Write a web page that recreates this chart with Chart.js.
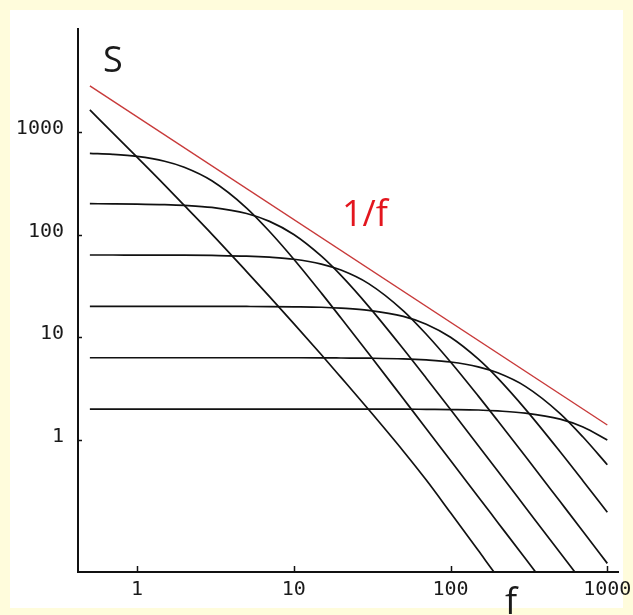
<!DOCTYPE html>
<html>
<head>
<meta charset="utf-8">
<script src="https://cdn.jsdelivr.net/npm/chart.js@4.4.1/dist/chart.umd.min.js"></script>
<style>
  html, body { margin: 0; padding: 0; background: #fffcdc; }
  #wrap { position: relative; width: 633px; height: 615px; }
</style>
</head>
<body>
<div id="wrap"><canvas id="spectrum"></canvas></div>
<script>
// frequencies the spectra are sampled at
const freq = [0.5, 0.7, 1, 1.5, 2, 3, 5, 7, 10, 15, 20, 30, 50, 70, 100, 150, 200, 300, 500, 700, 1000];

// steepest spectrum, no visible plateau
const steep   = [1633, 975, 566, 303, 192, 101, 43.6, 24.9, 13.6, 6.76, 4.07, 1.98, 0.779, 0.408, 0.196, 0.0845, 0.0464, 0.0206, 0.0074, 0.0038, 0.0019];
// Lorentzian spectra, named by their low-frequency plateau
const lor632  = [617, 603, 575, 516, 451, 333, 181, 107, 57.5, 26.9, 15.4, 6.95, 2.52, 1.29, 0.631, 0.281, 0.158, 0.0702, 0.0253, 0.0129, 0.0063];
const lor200  = [199.5, 199, 198, 195.6, 192.3, 183.5, 160, 134.2, 100, 61.5, 40, 20, 7.69, 4, 1.98, 0.885, 0.499, 0.222, 0.08, 0.0408, 0.02];
const lor63   = [63.2, 63.2, 63.1, 63.1, 63.0, 62.6, 61.7, 60.2, 57.5, 51.6, 45.1, 33.3, 18.1, 10.7, 5.75, 2.69, 1.54, 0.695, 0.252, 0.129, 0.0631];
const lor20   = [20, 20, 20, 20, 20, 20, 19.95, 19.9, 19.8, 19.6, 19.2, 18.3, 16, 13.4, 10, 6.15, 4, 2, 0.769, 0.4, 0.198];
const lor6    = [6.32, 6.32, 6.32, 6.32, 6.32, 6.32, 6.32, 6.32, 6.32, 6.31, 6.29, 6.26, 6.17, 6.02, 5.75, 5.16, 4.51, 3.33, 1.81, 1.07, 0.575];
const lor2    = [2, 2, 2, 2, 2, 2, 2, 2, 2, 2, 2, 2, 2, 1.99, 1.98, 1.96, 1.92, 1.83, 1.6, 1.34, 1];

// the 1/f envelope
const envFreq = [0.5, 1000];
const envVals = [2800, 1.4];

const xTicks = [1, 10, 100, 1000];
const yTicks = [1, 10, 100, 1000];

const toPoints = (xs, ys) => xs.map((x, i) => ({ x: x, y: ys[i] }));

const spectra = [steep, lor632, lor200, lor63, lor20, lor6, lor2].map(vals => ({
  data: toPoints(freq, vals),
  borderColor: '#111',
  borderWidth: 1.7,
  pointRadius: 0,
  cubicInterpolationMode: 'monotone'
}));

const envelope = {
  data: toPoints(envFreq, envVals),
  borderColor: '#c83a3a',
  borderWidth: 1.4,
  pointRadius: 0
};

// yellow page with a white card behind the plot
const framePlugin = {
  id: 'frame',
  beforeDraw(chart) {
    const ctx = chart.ctx;
    ctx.save();
    ctx.fillStyle = '#fffcdc';
    ctx.fillRect(0, 0, chart.width, chart.height);
    ctx.fillStyle = '#ffffff';
    ctx.fillRect(10, 10, 613, 598);
    ctx.restore();
  }
};

// inward tick marks and the S, f and 1/f labels
const marksPlugin = {
  id: 'marks',
  afterDraw(chart) {
    const { ctx, chartArea: area } = chart;
    const xs = chart.scales.x, ys = chart.scales.y;
    ctx.save();
    ctx.strokeStyle = '#111';
    ctx.lineWidth = 1.5;
    ctx.beginPath();
    xTicks.forEach(v => {
      const px = Math.round(xs.getPixelForValue(v)) + 0.5;
      ctx.moveTo(px, area.bottom);
      ctx.lineTo(px, area.bottom - 6);
    });
    yTicks.forEach(v => {
      const py = Math.round(ys.getPixelForValue(v)) + 0.5;
      ctx.moveTo(area.left, py);
      ctx.lineTo(area.left + 4, py);
    });
    ctx.stroke();

    ctx.textBaseline = 'alphabetic';
    ctx.fillStyle = '#1a1a1a';
    ctx.font = '36px "Open Sans"';
    ctx.textAlign = 'left';
    ctx.fillText('S', area.left + 25, area.top + 43);
    ctx.textAlign = 'center';
    ctx.fillText('f', 511, area.bottom + 42);

    ctx.fillStyle = '#e3161e';
    ctx.font = '36px "Open Sans"';
    ctx.textAlign = 'left';
    ctx.fillText('1/f', 342, 226);
    ctx.restore();
  }
};

const tickFont = { family: '"DejaVu Sans Mono"', size: 20 };

new Chart(document.getElementById('spectrum'), {
  type: 'line',
  data: { datasets: [...spectra, envelope] },
  options: {
    responsive: true,
    maintainAspectRatio: false,
    animation: false,
    layout: { padding: { top: 29, right: 15, left: 0, bottom: 0 } },
    plugins: { legend: { display: false }, tooltip: { enabled: false } },
    scales: {
      x: {
        type: 'logarithmic',
        min: 0.42,
        max: 1170,
        afterBuildTicks: s => { s.ticks = xTicks.map(v => ({ value: v })); },
        // fixed height; let the last label overhang instead of shrinking the plot
        afterFit: s => { s.height = 43; s.paddingLeft = 0; s.paddingRight = 0; },
        grid: { display: false, drawTicks: false },
        border: { display: true, color: '#111', width: 2 },
        ticks: {
          font: tickFont,
          color: '#1a1a1a',
          padding: 6,
          maxRotation: 0,
          autoSkip: false,
          callback: v => String(v)
        }
      },
      y: {
        type: 'logarithmic',
        min: 0.052,
        max: 10000,
        afterBuildTicks: s => { s.ticks = yTicks.map(v => ({ value: v })); },
        afterFit: s => { s.width = 78; s.paddingTop = 0; s.paddingBottom = 0; },
        grid: { display: false, drawTicks: false },
        border: { display: true, color: '#111', width: 2 },
        ticks: {
          font: tickFont,
          color: '#1a1a1a',
          padding: 14,
          labelOffset: -3,
          autoSkip: false,
          callback: v => String(v)
        }
      }
    }
  },
  plugins: [framePlugin, marksPlugin]
});
</script>
</body>
</html>
